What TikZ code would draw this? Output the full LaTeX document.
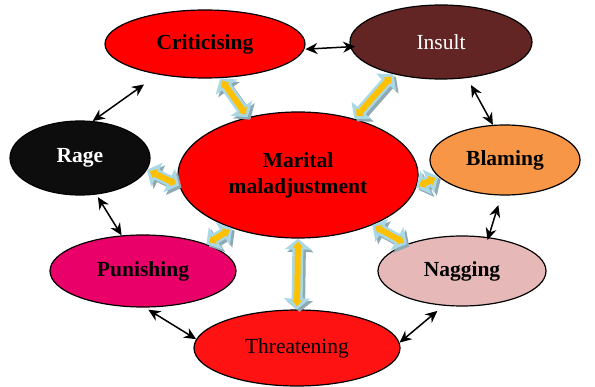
\documentclass[tikz,border=0pt]{standalone}
\usepackage{fontspec}
\setmainfont{Liberation Serif}
\usetikzlibrary{shapes.geometric,arrows.meta}
\definecolor{insultc}{HTML}{632523}
\definecolor{ragec}{HTML}{0D0D0D}
\definecolor{blamec}{HTML}{F79646}
\definecolor{punc}{HTML}{E90069}
\definecolor{nagc}{HTML}{E6B9B8}
\definecolor{thrc}{HTML}{FF1212}
\definecolor{lblue}{HTML}{A9D8E6}
\definecolor{yel}{HTML}{FFC000}
\definecolor{shgray}{HTML}{8FA9B3}
\tikzset{
  ell/.style={ellipse, draw=black, line width=1.2pt, inner sep=0pt,
    font=\fontsize{21.5}{26}\selectfont, align=center},
  blk/.style={draw=black, line width=1.5pt,
    {Stealth[length=12pt,width=11pt]}-{Stealth[length=12pt,width=11pt]}},
  bshadow/.style={draw=shgray, line width=11pt,
    {Triangle[width=26pt,length=11pt]}-{Triangle[width=26pt,length=11pt]},
    transform canvas={shift={(2.5pt,-2.5pt)}}},
  bouter/.style={draw=lblue, line width=11pt,
    {Triangle[width=26pt,length=11pt]}-{Triangle[width=26pt,length=11pt]}},
  binner/.style={draw=yel, line width=6pt,
    {Triangle[width=10pt,length=6pt]}-{Triangle[width=10pt,length=6pt]},
    shorten <=3pt, shorten >=3pt},
}
\newcommand\fatarrow[2]{%
  \draw[bshadow] (#1) -- (#2);
  \draw[bouter] (#1) -- (#2);
  \draw[binner] (#1) -- (#2);}
\begin{document}
\begin{tikzpicture}[x=1pt,y=-1pt]
\useasboundingbox (0,0) rectangle (595,387);
\node[ell, fill=red, minimum width=200pt, minimum height=68pt] (crit) at (205,44) {\textbf{Criticising}};
\node[ell, fill=insultc, text=white, minimum width=182pt, minimum height=74pt] (ins) at (441,42) {Insult};
\node[ell, fill=ragec, text=white, minimum width=140pt, minimum height=74pt] (rage) at (80,158) {\textbf{Rage}};
\node[ell, fill=red, minimum width=240pt, minimum height=126pt] (mm) at (298,175) {\textbf{Marital}\\\textbf{maladjustment}};
\node[ell, fill=blamec, minimum width=150pt, minimum height=70pt] (blame) at (505,160) {\textbf{Blaming}};
\node[ell, fill=punc, minimum width=186pt, minimum height=72pt] (pun) at (143,271) {\textbf{Punishing}};
\node[ell, fill=nagc, minimum width=168pt, minimum height=70pt] (nag) at (462,271) {\textbf{Nagging}};
\node[ell, fill=thrc, minimum width=206pt, minimum height=76pt] (thr) at (297,348) {Threatening};

% block arrows
\fatarrow{crit.-66}{mm.131}
\fatarrow{ins.214}{mm.45}
\fatarrow{rage.-10}{mm.185}
\fatarrow{blame.194}{mm.-6}
\fatarrow{pun.23}{mm.219}
\fatarrow{nag.154}{mm.-34}
\fatarrow{thr.north}{mm.south}

% black arrows
\draw[blk, shorten <=1pt, shorten >=-5pt] (crit.-3) -- (ins.183);
\draw[blk, shorten >=17pt] (rage.71) -- (crit.213);
\draw[blk, shorten <=8pt] (ins.-54) -- (blame.109);
\draw[blk, shorten <=3pt] (rage.-66) -- (pun.121);
\draw[blk, shorten <=10pt, shorten >=-3pt] (blame.-96) -- (nag.52);
\draw[blk, shorten <=4pt] (pun.-87) -- (thr.175);
\draw[blk, shorten <=8pt] (nag.242) -- (thr.3);
\end{tikzpicture}
\end{document}
